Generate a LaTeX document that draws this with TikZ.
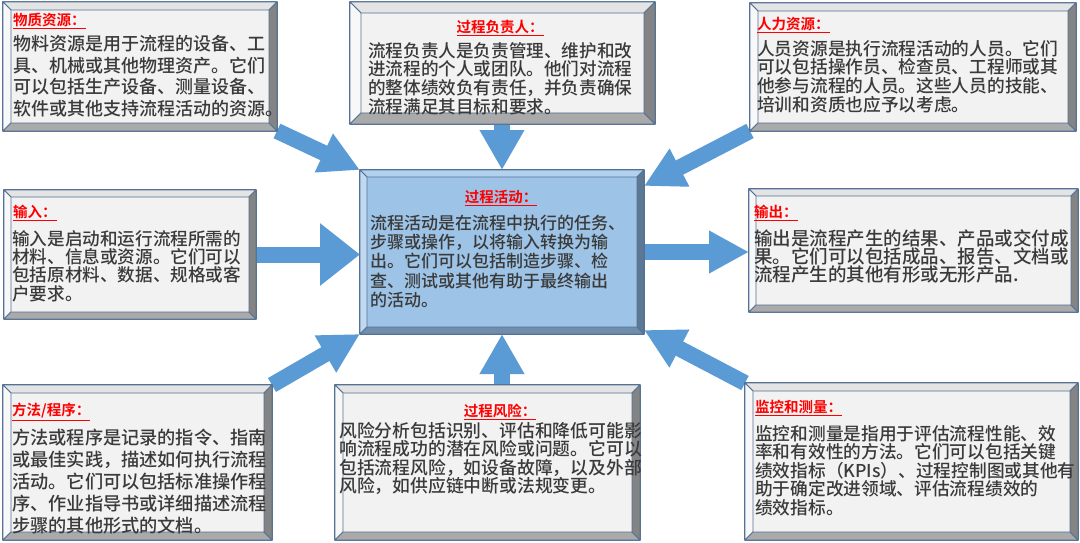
\documentclass[tikz,border=0pt]{standalone}
\usepackage{fontspec}
\newfontfamily\cjk{Noto Sans CJK SC}[UprightFont=* Medium, BoldFont=* Bold]
\usetikzlibrary{arrows.meta, backgrounds}

\definecolor{edgeblue}{RGB}{84,114,150}
\definecolor{arrowblue}{RGB}{91,155,213}
\definecolor{titlered}{RGB}{255,0,0}
\definecolor{bodygrey}{RGB}{58,58,58}
% grey bevel faces
\definecolor{gface}{RGB}{242,242,242}
\definecolor{gtop}{RGB}{228,228,228}
\definecolor{gleft}{RGB}{248,248,248}
\definecolor{gbottom}{RGB}{170,170,170}
\definecolor{gright}{RGB}{132,132,132}
% blue bevel faces
\definecolor{bface}{RGB}{157,195,230}
\definecolor{btop}{RGB}{178,209,237}
\definecolor{bleft}{RGB}{192,217,241}
\definecolor{bbottom}{RGB}{112,142,172}
\definecolor{bright}{RGB}{92,120,148}

% four slanted faces round a box node
\newcommand{\bevelface}[3]{%
  \filldraw[draw=edgeblue, line width=0.8pt, fill=#2top] (#1.north west) -- (#1.north east) -- ([shift={(-#3,-#3)}]#1.north east) -- ([shift={(#3,-#3)}]#1.north west) -- cycle;
  \filldraw[draw=edgeblue, line width=0.8pt, fill=#2left] (#1.north west) -- ([shift={(#3,-#3)}]#1.north west) -- ([shift={(#3,#3)}]#1.south west) -- (#1.south west) -- cycle;
  \filldraw[draw=edgeblue, line width=0.8pt, fill=#2bottom] (#1.south west) -- ([shift={(#3,#3)}]#1.south west) -- ([shift={(-#3,#3)}]#1.south east) -- (#1.south east) -- cycle;
  \filldraw[draw=edgeblue, line width=0.8pt, fill=#2right] (#1.south east) -- ([shift={(-#3,#3)}]#1.south east) -- ([shift={(-#3,-#3)}]#1.north east) -- (#1.north east) -- cycle;
}

\begin{document}
\begin{tikzpicture}[x=1pt, y=-1pt, line join=round,
  box/.style={rectangle, draw=edgeblue, line width=1.2pt, inner sep=0pt, outer sep=0pt},
  greybox/.style={box, fill=gface},
  bluebox/.style={box, fill=bface},
  title/.style={inner sep=0pt, text=titlered, font=\cjk\bfseries\fontsize{14.5}{16}\selectfont},
  body/.style args={#1/#2}{inner sep=0pt, align=left, text=bodygrey, font=\cjk\fontsize{#1}{#2}\selectfont},
  blockarrow/.style={draw=arrowblue, line width=16pt, -{Triangle[length=40pt, width=40pt]}}]
  \useasboundingbox (0,0) rectangle (1080,543);

  % boxes
  \node[greybox, minimum width=274pt, minimum height=129pt] (mat) at (140,66.5) {};
  \node[greybox, minimum width=305pt, minimum height=122pt] (own) at (502.5,63) {};
  \node[greybox, minimum width=326pt, minimum height=128pt] (hum) at (913,67) {};
  \node[greybox, minimum width=252pt, minimum height=129pt] (inp) at (130,254.5) {};
  \node[bluebox, minimum width=284pt, minimum height=164pt] (act) at (502,252) {};
  \node[greybox, minimum width=329pt, minimum height=123pt] (out) at (913.5,250.5) {};
  \node[greybox, minimum width=269pt, minimum height=155pt] (met) at (137.5,462.5) {};
  \node[greybox, minimum width=305pt, minimum height=155pt] (risk) at (487.5,462.5) {};
  \node[greybox, minimum width=333pt, minimum height=157pt] (mon) at (911.5,461.5) {};

  \bevelface{mat}{g}{8pt}
  \bevelface{own}{g}{11pt}
  \bevelface{hum}{g}{8pt}
  \bevelface{inp}{g}{7pt}
  \bevelface{act}{b}{7pt}
  \bevelface{out}{g}{7pt}
  \bevelface{met}{g}{8pt}
  \bevelface{risk}{g}{8pt}
  \bevelface{mon}{g}{8pt}

  % texts
  \node[title, anchor=west] (mat-t) at ([shift={(10pt,-19pt)}]mat.north west) {\underline{物质资源：}};
  \node[body=18/21.7, anchor=north west] (mat-b) at ([shift={(10pt,-33pt)}]mat.north west)
    {物料资源是用于流程的设备、工\\具、机械或其他物理资产。它们\\可以包括生产设备、测量设备、\\软件或其他支持流程活动的资源。};

  \node[title] (own-t) at ([shift={(-2.5pt,-26pt)}]own.north) {\underline{过程负责人：}};
  \node[body=17.6/18.8, anchor=north west] (own-b) at ([shift={(18pt,-40pt)}]own.north west)
    {流程负责人是负责管理、维护和改\\进流程的个人或团队。他们对流程\\的整体绩效负有责任，并负责确保\\流程满足其目标和要求。};

  \node[title, anchor=west] (hum-t) at ([shift={(7pt,-22pt)}]hum.north west) {\underline{人力资源：}};
  \node[body=17.7/18.7, anchor=north west] (hum-b) at ([shift={(7pt,-37pt)}]hum.north west)
    {人员资源是执行流程活动的人员。它们\\可以包括操作员、检查员、工程师或其\\他参与流程的人员。这些人员的技能、\\培训和资质也应予以考虑。};

  \node[title, anchor=west] (inp-t) at ([shift={(9pt,-23pt)}]inp.north west) {\underline{输入：}};
  \node[body=17.6/18.3, anchor=north west] (inp-b) at ([shift={(8pt,-40pt)}]inp.north west)
    {输入是启动和运行流程所需的\\材料、信息或资源。它们可以\\包括原材料、数据、规格或客\\户要求。};

  \node[title] (act-t) at ([shift={(-1pt,-28pt)}]act.north) {\underline{过程活动：}};
  \node[body=17/19.2, anchor=north west] (act-b) at ([shift={(10pt,-45pt)}]act.north west)
    {流程活动是在流程中执行的任务、\\步骤或操作，以将输入转换为输\\出。它们可以包括制造步骤、检\\查、测试或其他有助于最终输出\\的活动。};

  \node[title, anchor=west] (out-t) at ([shift={(5pt,-24pt)}]out.north west) {\underline{输出：}};
  \node[body=18.5/18.4, anchor=north west] (out-b) at ([shift={(5pt,-40pt)}]out.north west)
    {输出是流程产生的结果、产品或交付成\\果。它们可以包括成品、报告、文档或\\流程产生的其他有形或无形产品.};

  \node[title, anchor=west] (met-t) at ([shift={(9pt,-27pt)}]met.north west) {\underline{方法/程序：}};
  \node[body=18.2/22, anchor=north west] (met-b) at ([shift={(9pt,-44pt)}]met.north west)
    {方法或程序是记录的指令、指南\\或最佳实践，描述如何执行流程\\活动。它们可以包括标准操作程\\序、作业指导书或详细描述流程\\步骤的其他形式的文档。};

  \node[title] (risk-t) at ([shift={(12.5pt,-27pt)}]risk.north) {\underline{过程风险：}};
  \node[body=17.8/18.5, anchor=north west] (risk-b) at ([shift={(4pt,-37pt)}]risk.north west)
    {风险分析包括识别、评估和降低可能影\\响流程成功的潜在风险或问题。它可以\\包括流程风险，如设备故障，以及外部\\风险，如供应链中断或法规变更。};

  \node[title, anchor=west] (mon-t) at ([shift={(10pt,-25pt)}]mon.north west) {\underline{监控和测量：}};
  \node[body=17.7/18.5, anchor=north west] (mon-b) at ([shift={(10pt,-42pt)}]mon.north west)
    {监控和测量是指用于评估流程性能、效\\率和有效性的方法。它们可以包括关键\\绩效指标（KPIs）、过程控制图或其他有\\助于确定改进领域、评估流程绩效的\\绩效指标。};

  % arrows into and out of the activity box
  \begin{scope}[on background layer]
    \fill[white] (0,0) rectangle (1080,543);
    \draw[blockarrow] (mat.south east) -- (act.north west);
    \draw[blockarrow, -{Triangle[length=40pt, width=42pt]}] (act.north |- own.south) -- (act.north);
    \draw[blockarrow] (hum.south west) -- ([yshift=-16pt]act.north east);
    \draw[blockarrow, -{Triangle[length=40pt, width=60pt]}] (inp.east) -- (inp.east -| act.west);
    \draw[blockarrow] (act.east) -- (act.east -| out.west);
    \draw[blockarrow] (met.north east) -- (act.south west);
    \draw[blockarrow, -{Triangle[length=40pt, width=42pt]}] (act.south |- risk.north) -- (act.south);
    \draw[blockarrow] (mon.north west) -- ([yshift=4pt]act.south east);
  \end{scope}
\end{tikzpicture}
\end{document}
